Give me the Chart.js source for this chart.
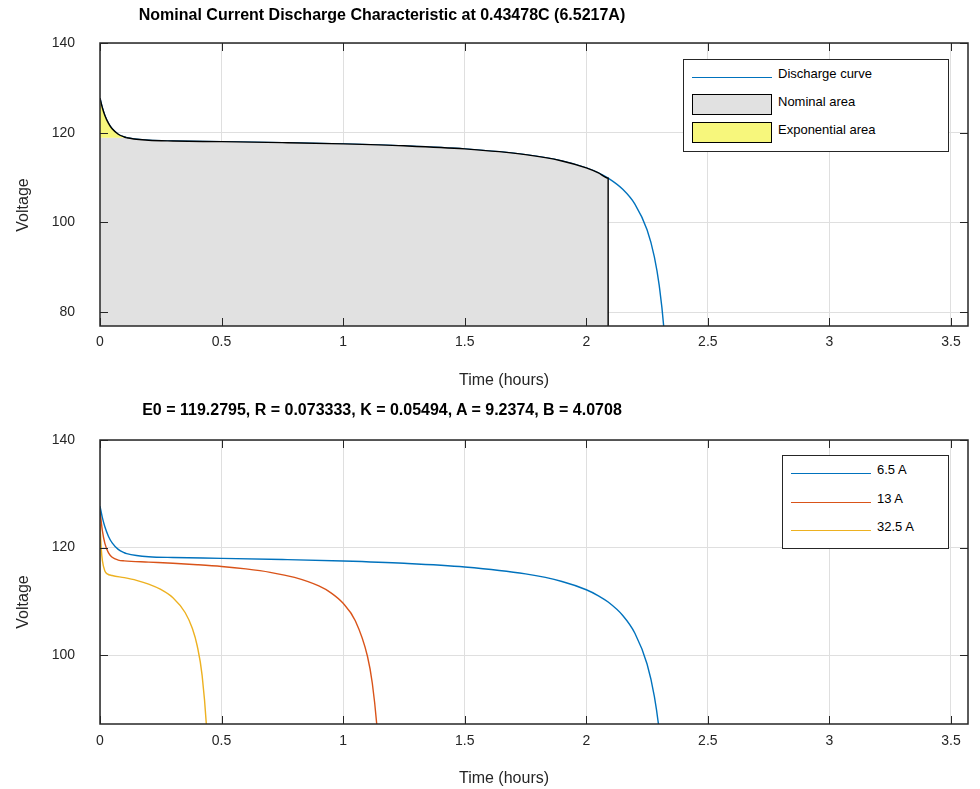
<!DOCTYPE html>
<html>
<head>
<meta charset="utf-8">
<script src="https://cdn.jsdelivr.net/npm/chart.js@4.4.0/dist/chart.umd.min.js"></script>
<style>
  body { margin: 0; background: #fff; font-family: "Liberation Sans", Arial, sans-serif; color: #262626; }
  #wrap { position: relative; width: 980px; height: 789px; overflow: hidden; }
  canvas { position: absolute; left: 0; }
  .txt { position: absolute; white-space: nowrap; line-height: 18px; }
  .title { left: 0; width: 764px; text-align: center; font-weight: bold; font-size: 16px; color: #000; }
  .xlab { left: 404px; width: 200px; text-align: center; font-size: 16px; }
  .ylab { left: -27px; width: 100px; text-align: center; font-size: 16px; transform: rotate(-90deg); }
  .leg { position: absolute; border: 1px solid #262626; background: #fff; box-sizing: border-box; }
  .leg div { position: absolute; }
  .leg .lbl { font-size: 13px; line-height: 15px; color: #000; white-space: nowrap; }
</style>
</head>
<body>
<div id="wrap">
  <canvas id="top" width="980" height="395" style="top:0"></canvas>
  <canvas id="bottom" width="980" height="394" style="top:395px"></canvas>

  <div class="txt title" style="top:6px">Nominal Current Discharge Characteristic at 0.43478C (6.5217A)</div>
  <div class="txt xlab" style="top:371px">Time (hours)</div>
  <div class="txt ylab" style="top:196px">Voltage</div>

  <div class="txt title" style="top:401px">E0 = 119.2795, R = 0.073333, K = 0.05494, A = 9.2374, B = 4.0708</div>
  <div class="txt xlab" style="top:769px">Time (hours)</div>
  <div class="txt ylab" style="top:593px">Voltage</div>

  <div class="leg" id="legTop" style="left:683px;top:59px;width:266px;height:93px"></div>
  <div class="leg" id="legBottom" style="left:782px;top:455px;width:167px;height:94px"></div>
</div>
<script>
// 6.5 A curve (nominal current), hours / volts
const time65 = [0, 0.01, 0.02, 0.035, 0.05, 0.075, 0.1, 0.11, 0.15, 0.2, 0.3, 0.5, 0.75, 1.0, 1.25, 1.5, 1.75, 1.9, 2.0, 2.05, 2.09, 2.15, 2.2, 2.25, 2.28, 2.3, 2.32, 2.34];
const volt65 = [127.68, 125.52, 123.86, 122.07, 120.87, 119.66, 119.04, 118.88, 118.53, 118.30, 118.15, 118.0, 117.78, 117.50, 117.08, 116.39, 115.10, 113.70, 112.16, 111.04, 109.87, 107.38, 104.08, 98.35, 92.33, 85.94, 75.75, 56.5];

// 13 A curve
const time13 = [0, 0.01, 0.02, 0.035, 0.05, 0.075, 0.1, 0.2, 0.3, 0.4, 0.5, 0.6, 0.7, 0.8, 0.9, 0.95, 1.0, 1.05, 1.1, 1.12, 1.14, 1.15];
const volt13 = [126.85, 123.04, 120.79, 119.01, 118.20, 117.68, 117.52, 117.30, 117.09, 116.82, 116.49, 116.03, 115.40, 114.45, 112.86, 111.58, 109.64, 106.40, 99.80, 94.77, 86.19, 79.16];

// 32.5 A curve
const time325 = [0, 0.005, 0.01, 0.02, 0.03, 0.05, 0.1, 0.15, 0.2, 0.25, 0.3, 0.35, 0.38, 0.4, 0.42, 0.44, 0.45];
const volt325 = [124.35, 119.85, 117.51, 115.65, 115.11, 114.81, 114.41, 113.91, 113.22, 112.22, 110.68, 107.93, 104.95, 101.70, 96.24, 85.14, 73.81];

// end of exponential zone and of nominal zone
const expTime = 0.11, expVolt = 118.88;
const nomTime = 2.09;

const seriesLabels = ['6.5 A', '13 A', '32.5 A'];
const xTicksStep = 0.5, yTicksStep = 20;

const BLUE = '#0072BD', ORANGE = '#D95319', GOLD = '#EDB120';
const GRAY_FILL = '#e1e1e1', YELLOW_FILL = '#f7f77c';
const FONT = { family: '"Liberation Sans", Arial, sans-serif', size: 14 };

const pts = (ts, vs) => ts.map((t, i) => ({ x: t, y: vs[i] }));

const curve65 = pts(time65, volt65);
const expArea = curve65.filter(p => p.x <= expTime);
const nomEdge = curve65.filter(p => p.x >= expTime && p.x <= nomTime).concat([{ x: nomTime, y: 60 }]);
const nomArea = [{ x: 0, y: expVolt }].concat(nomEdge);

// inward ticks on all four sides + box, matlab style
const axesBox = {
  id: 'axesBox',
  afterDraw(chart) {
    const { ctx, chartArea: a, scales: { x, y } } = chart;
    const len = 8;
    ctx.save();
    ctx.strokeStyle = '#262626';
    ctx.lineWidth = 1;
    ctx.beginPath();
    x.ticks.forEach(t => {
      const px = Math.round(x.getPixelForValue(t.value)) + 0.5;
      ctx.moveTo(px, a.bottom); ctx.lineTo(px, a.bottom - len);
      ctx.moveTo(px, a.top); ctx.lineTo(px, a.top + len);
    });
    y.ticks.forEach(t => {
      const py = Math.round(y.getPixelForValue(t.value)) + 0.5;
      ctx.moveTo(a.left, py); ctx.lineTo(a.left + len, py);
      ctx.moveTo(a.right, py); ctx.lineTo(a.right - len, py);
    });
    ctx.stroke();
    ctx.lineWidth = 1.5;
    ctx.strokeRect(a.left, a.top, a.right - a.left, a.bottom - a.top);
    ctx.restore();
  }
};

function scales(yMin, xHeight, xPad) {
  return {
    x: {
      type: 'linear', min: 0, max: 3.57,
      grid: { color: '#dfdfdf', drawTicks: false },
      border: { display: false },
      ticks: { stepSize: xTicksStep, includeBounds: false, padding: xPad, color: '#262626', font: FONT, maxRotation: 0,
        callback: v => String(v) },
      afterFit: s => { s.height = xHeight; }
    },
    y: {
      min: yMin, max: 140,
      grid: { color: '#dfdfdf', drawTicks: false },
      border: { display: false },
      ticks: { stepSize: yTicksStep, includeBounds: false, padding: 25, color: '#262626', font: FONT },
      afterFit: s => { s.width = 100; }
    }
  };
}

const common = {
  responsive: false,
  animation: false,
  events: [],
  elements: { point: { radius: 0 }, line: { borderWidth: 1.4, cubicInterpolationMode: 'monotone' } },
  plugins: { legend: { display: false }, tooltip: { enabled: false } }
};

new Chart(document.getElementById('top'), {
  type: 'line',
  data: {
    datasets: [
      { label: 'Discharge curve', data: curve65, borderColor: BLUE, fill: false, order: 4 },
      { label: 'Nominal area', data: nomArea, borderWidth: 0, borderColor: 'rgba(0,0,0,0)', backgroundColor: GRAY_FILL, fill: 'start', order: 3 },
      { label: 'Nominal edge', data: nomEdge, borderColor: '#000', fill: false, order: 2 },
      { label: 'Exponential area', data: expArea, borderColor: '#000', backgroundColor: YELLOW_FILL, fill: { value: expVolt }, order: 1 }
    ]
  },
  options: Object.assign({}, common, {
    layout: { padding: { top: 43, right: 12, left: 0, bottom: 0 } },
    scales: scales(76.9, 69, 8)
  }),
  plugins: [axesBox]
});

new Chart(document.getElementById('bottom'), {
  type: 'line',
  data: {
    datasets: [
      { label: seriesLabels[0], data: curve65, borderColor: BLUE, fill: false },
      { label: seriesLabels[1], data: pts(time13, volt13), borderColor: ORANGE, fill: false },
      { label: seriesLabels[2], data: pts(time325, volt325), borderColor: GOLD, fill: false }
    ]
  },
  options: Object.assign({}, common, {
    layout: { padding: { top: 45, right: 12, left: 0, bottom: 0 } },
    scales: scales(87.2, 65, 9)
  }),
  plugins: [axesBox]
});

// legends
function legend(el, items, rowH, firstY) {
  items.forEach((it, i) => {
    const cy = firstY + i * rowH;
    const sw = document.createElement('div');
    if (it.fill) {
      Object.assign(sw.style, { left: '8px', top: (cy - 10) + 'px', width: '80px', height: '21px',
        background: it.fill, border: '1px solid #000', boxSizing: 'border-box' });
    } else {
      Object.assign(sw.style, { left: '8px', top: (cy + 1) + 'px', width: '80px', height: '0',
        borderTop: '1.4px solid ' + it.color });
    }
    el.appendChild(sw);
    const tx = document.createElement('div');
    tx.className = 'lbl';
    tx.textContent = it.label;
    Object.assign(tx.style, { left: '94px', top: (cy - 10) + 'px' });
    el.appendChild(tx);
  });
}
legend(document.getElementById('legTop'), [
  { label: 'Discharge curve', color: BLUE },
  { label: 'Nominal area', fill: GRAY_FILL },
  { label: 'Exponential area', fill: YELLOW_FILL }
], 28, 16);
legend(document.getElementById('legBottom'), [
  { label: seriesLabels[0], color: BLUE },
  { label: seriesLabels[1], color: ORANGE },
  { label: seriesLabels[2], color: GOLD }
], 28.5, 16);
</script>
</body>
</html>
